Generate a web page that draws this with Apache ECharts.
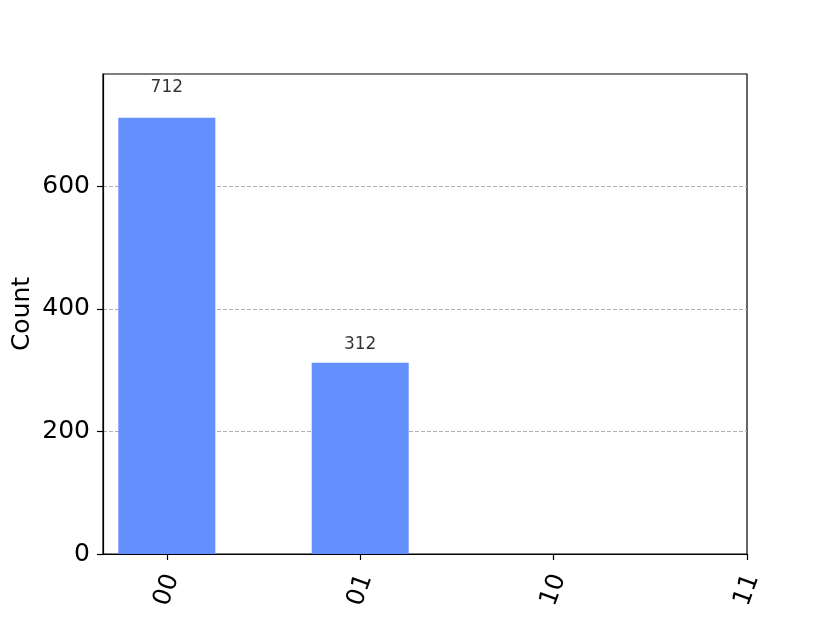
<!DOCTYPE html>
<html>
<head>
<meta charset="utf-8">
<script src="https://cdn.jsdelivr.net/npm/echarts@6/dist/echarts.min.js"></script>
<style>html,body{margin:0;padding:0;background:#fff}#c{width:830px;height:623px}</style>
</head>
<body>
<div id="c"></div>
<script>
const categories = ['00', '01', '10', '11'];
const counts = [712, 312, 0, 0];
const yTicks = [0, 200, 400, 600];
const yMax = 783.2;

const positions = categories.map((c, i) => i);
const barData = counts.map((v, i) => [positions[i], v]);
const labelData = counts
  .map((v, i) => ({ value: [positions[i], v * 1.05], raw: v }))
  .filter(d => d.raw > 0);

const font = 'DejaVu Sans';
const chart = echarts.init(document.getElementById('c'), null, { renderer: 'canvas' });
chart.setOption({
  animation: false,
  backgroundColor: '#ffffff',
  grid: { left: 103, right: 83, top: 74, bottom: 69, show: true, borderColor: '#000', borderWidth: 1.2, backgroundColor: 'transparent' },
  xAxis: {
    type: 'value',
    min: -0.33,
    max: 3,
    axisLine: { show: true, onZero: false, lineStyle: { color: '#000', width: 1.2 } },
    axisTick: { show: true, length: 6, customValues: positions, lineStyle: { color: '#000', width: 1.2 } },
    splitLine: { show: false },
    axisLabel: {
      customValues: positions,
      formatter: v => categories[Math.round(v)],
      rotate: 70,
      align: 'center',
      verticalAlign: 'middle',
      margin: 36,
      color: '#000',
      fontFamily: font,
      fontSize: 25
    }
  },
  yAxis: {
    type: 'value',
    min: 0,
    max: yMax,
    name: 'Count',
    nameLocation: 'middle',
    nameGap: 68,
    nameMoveOverlap: false,
    nameTextStyle: { color: '#000', fontFamily: font, fontSize: 25 },
    axisLine: { show: true, onZero: false, lineStyle: { color: '#000', width: 1.2 } },
    axisTick: { show: true, length: 6, customValues: yTicks, lineStyle: { color: '#000', width: 1.2 } },
    axisLabel: {
      customValues: yTicks,
      margin: 13,
      color: '#000',
      fontFamily: font,
      fontSize: 25
    },
    splitLine: { show: true, lineStyle: { color: '#b0b0b0', type: [4, 2], width: 1 } }
  },
  series: [
    {
      type: 'bar',
      data: barData,
      barWidth: 97,
      itemStyle: { color: '#648fff' }
    },
    {
      type: 'scatter',
      data: labelData,
      symbolSize: 0,
      silent: true,
      label: {
        show: true,
        position: 'top',
        distance: 0,
        formatter: p => String(p.data.raw),
        color: '#000',
        fontFamily: font,
        fontSize: 17
      }
    }
  ]
});
</script>
</body>
</html>
